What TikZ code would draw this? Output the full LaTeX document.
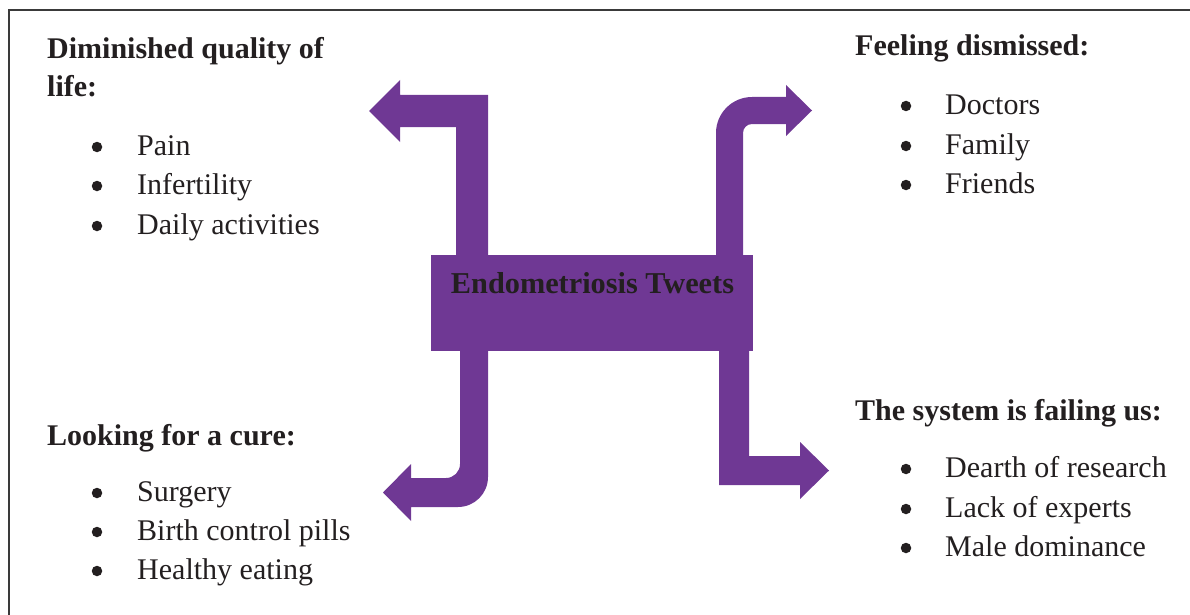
\documentclass[tikz,border=0pt]{standalone}
\usepackage{fontspec}
\setmainfont{Liberation Serif}
\definecolor{ink}{HTML}{231F20}
\definecolor{purp}{HTML}{6F3894}
\definecolor{frame}{HTML}{3A3A3A}
\newcommand\bigtext{\fontsize{30}{36}\selectfont}
\newcommand\centertext{\fontsize{30.3}{36}\selectfont}
\tikzset{
  heading/.style={font=\bigtext\bfseries, text=ink, anchor=base west, inner sep=0pt},
  itemtext/.style={font=\bigtext, text=ink, anchor=base west, inner sep=0pt},
  dotmark/.style={circle, fill=ink, inner sep=0pt, minimum size=10.5pt},
  arrowshape/.style={fill=purp, draw=none},
}
\begin{document}
\begin{tikzpicture}[x=1pt, y=-1pt]
\useasboundingbox (0,0) rectangle (1190,615);
% frame
\draw[frame, line width=1.5pt] (9,615) -- (9,10) -- (1190,10);

% arrows
\fill[arrowshape] (456,256) -- (456,127) -- (400,127) -- (400,142) -- (369,111) -- (400,80) -- (400,95) -- (488,95) -- (488,256) -- cycle;
\fill[arrowshape] (716,256) -- (716,133) arc[start angle=180, end angle=270, radius=36] -- (786,97) -- (786,85) -- (812,110.5) -- (786,136) -- (786,124) -- (752,124) arc[start angle=270, end angle=180, radius=9] -- (743,256) -- cycle;
\fill[arrowshape] (460,350) -- (460,464) arc[start angle=0, end angle=90, radius=14] -- (411,478) -- (411,464) -- (383,492.5) -- (411,521) -- (411,507) -- (458,507) arc[start angle=90, end angle=0, radius=30] -- (488,350) -- cycle;
\fill[arrowshape] (719,350) -- (719,485) -- (800,485) -- (800,499) -- (829,470.5) -- (800,442) -- (800,456) -- (749,456) -- (749,350) -- cycle;

% central box
\fill[purp] (431,255) rectangle (753,351);
\node[font=\centertext\bfseries, text=ink, anchor=base, inner sep=0pt] (center) at (592.5,293) {Endometriosis Tweets};

% top-left
\node[heading] (h1a) at (47,59) {Diminished quality of};
\node[heading] (h1b) at (47,97) {life:};
\node[dotmark] (d11) at (97,147) {};
\node[itemtext] (t11) at (137,155) {Pain};
\node[dotmark] (d12) at (97,186) {};
\node[itemtext] (t12) at (137,194) {Infertility};
\node[dotmark] (d13) at (97,226) {};
\node[itemtext] (t13) at (137,234) {Daily activities};

% top-right
\node[heading] (h2) at (855,56) {Feeling dismissed:};
\node[dotmark] (d21) at (906,106) {};
\node[itemtext] (t21) at (945,114) {Doctors};
\node[dotmark] (d22) at (906,146) {};
\node[itemtext] (t22) at (945,154) {Family};
\node[dotmark] (d23) at (906,185) {};
\node[itemtext] (t23) at (945,193) {Friends};

% bottom-left
\node[heading] (h3) at (47,445) {Looking for a cure:};
\node[dotmark] (d31) at (97,493) {};
\node[itemtext] (t31) at (137,501) {Surgery};
\node[dotmark] (d32) at (97,532) {};
\node[itemtext] (t32) at (137,540) {Birth control pills};
\node[dotmark] (d33) at (97,571) {};
\node[itemtext] (t33) at (137,579) {Healthy eating};

% bottom-right
\node[heading] (h4) at (855,420) {The system is failing us:};
\node[dotmark] (d41) at (906,469) {};
\node[itemtext] (t41) at (945,477) {Dearth of research};
\node[dotmark] (d42) at (906,509) {};
\node[itemtext] (t42) at (945,517) {Lack of experts};
\node[dotmark] (d43) at (906,548) {};
\node[itemtext] (t43) at (945,556) {Male dominance};
\end{tikzpicture}
\end{document}
